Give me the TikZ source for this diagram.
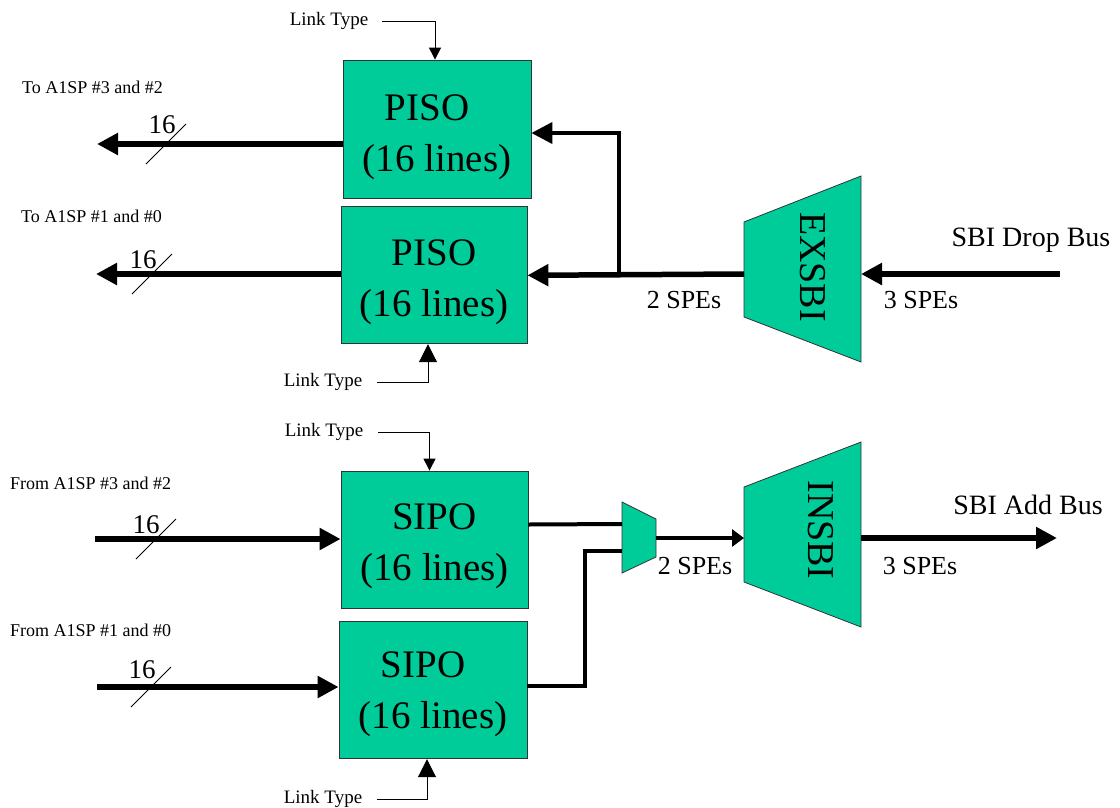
\documentclass[tikz,border=0pt]{standalone}
\usepackage{fontspec}
\setmainfont{Liberation Serif}
\usetikzlibrary{arrows.meta,positioning}
\definecolor{cG}{RGB}{0,204,153}

\begin{document}
\begin{tikzpicture}[x=1pt,y=-1pt,
    unit/.style={rectangle,draw=black!80,line width=0.8pt,fill=cG,minimum width=187pt,minimum height=137pt,inner sep=0pt},
    utext/.style={inner sep=0pt,align=center,font=\fontsize{39}{51}\selectfont},
    mux/.style={draw=black!80,line width=0.8pt,fill=cG},
    vtext/.style={rotate=-90,inner sep=0pt,font=\fontsize{38}{40}\selectfont},
    bus/.style={line width=5.5pt,-{Triangle[length=21pt,width=21pt]}},
    wire/.style={line width=4pt},
    ctrl/.style={line width=1pt,-{Triangle[length=12pt,width=12pt]}},
    ctrlup/.style={line width=1pt,-{Triangle[length=18pt,width=18pt]}},
    tick/.style={line width=0.8pt},
    lbl/.style={inner sep=0pt,font=\fontsize{18}{20}\selectfont},
    ltype/.style={inner sep=0pt,font=\fontsize{19}{21}\selectfont},
    num/.style={inner sep=0pt,font=\fontsize{27}{30}\selectfont},
    spe/.style={inner sep=0pt,font=\fontsize{26}{28}\selectfont},
    buslbl/.style={inner sep=0pt,font=\fontsize{28}{30}\selectfont}
  ]
  \useasboundingbox (0,0) rectangle (1120,807);
  % drop side
  \node[unit,minimum width=188pt,minimum height=138pt] (pisoA) at (437,129) {};
  \node[unit,below=8pt of pisoA,xshift=-3pt,minimum width=186pt] (pisoB) {};
  \node[utext] (pisoAtxt) at ([yshift=-8pt]pisoA.center) {PISO\hspace*{20pt}\\(16 lines)};
  \node[utext] (pisoBtxt) at ([yshift=-7pt]pisoB.center) {PISO\\(16 lines)};
  \draw[mux] (744,222) -- (861,176) -- (861,362) -- (744,317) -- cycle;
  \node[vtext] (exsbi) at (813,267) {EXSBI};
  % add side
  \node[unit] (sipoA) at (434.5,539.5) {};
  \node[unit,below=13pt of sipoA,xshift=-1.5pt,minimum width=188pt] (sipoB) {};
  \node[utext] (sipoAtxt) at ([yshift=-7pt]sipoA.center) {SIPO\\(16 lines)};
  \node[utext] (sipoBtxt) at ([yshift=-4pt]sipoB.center) {SIPO\hspace*{20pt}\\(16 lines)};
  \draw[mux] (622,502) -- (656,519) -- (656,557) -- (622,573) -- cycle;
  \draw[mux] (744,487) -- (861,442) -- (861,627) -- (744,582) -- cycle;
  \node[vtext] (insbi) at (821,530) {INSBI};

  \coordinate (exsbiL) at (744,274);
  \coordinate (exsbiR) at (861,274);
  \coordinate (dropIn) at (1060,274);
  \coordinate (tap) at (619,274);
  \coordinate (muxInA) at (622,524);
  \coordinate (muxInB) at (622,551);
  \coordinate (muxOut) at (656,538);
  \coordinate (insbiL) at (744,538);
  \coordinate (insbiR) at (861,538);
  \coordinate (addOut) at (1057,538);
  \coordinate (toA) at (97,144);
  \coordinate (toB) at (96,274);
  \coordinate (fromA) at (95,539);
  \coordinate (fromB) at (97,687);

  \draw[bus] (dropIn) -- (exsbiR);
  \draw[bus] (exsbiL) -- (pisoB.east);
  \draw[wire,-{Triangle[length=21pt,width=21pt]}] (tap) |- ([yshift=-4pt]pisoA.east);
  \draw[bus] (pisoA.west |- toA) -- (toA);
  \draw[bus] (pisoB.west |- toB) -- (toB);
  \draw[bus] (fromA) -- (sipoA.west |- fromA);
  \draw[bus] (fromB) -- (sipoB.west |- fromB);
  \draw[wire] ([yshift=15pt]sipoA.east) -- (muxInA);
  \draw[wire] ([yshift=4pt]sipoB.east) -| (585,551) -- (muxInB);
  \draw[wire,-{Triangle[length=12pt,width=17pt]}] (muxOut) -- (insbiL);
  \draw[bus] (insbiR) -- (addOut);

  % link type controls
  \node[ltype] (ltA) at (329,21) {Link Type};
  \draw[ctrl] ([xshift=14pt]ltA.east) -| ([xshift=-2pt]pisoA.north);
  \node[ltype] (ltB) at (323,382) {Link Type};
  \draw[ctrlup] ([xshift=15pt]ltB.east) -| ([xshift=-6pt]pisoB.south);
  \node[ltype] (ltC) at (324,432) {Link Type};
  \draw[ctrl] ([xshift=15pt]ltC.east) -| ([xshift=-5pt]sipoA.north);
  \node[ltype] (ltD) at (323,799) {Link Type};
  \draw[ctrlup] ([xshift=15pt]ltD.east) -| ([xshift=-6pt]sipoB.south);

  \node[lbl,anchor=west] (dstA) at (22,87) {To A1SP \#3 and \#2};
  \node[lbl,anchor=west] (dstB) at (21,216) {To A1SP \#1 and \#0};
  \node[lbl,anchor=west] (srcA) at (10,483) {From A1SP \#3 and \#2};
  \node[lbl,anchor=west] (srcB) at (10,630) {From A1SP \#1 and \#0};

  \node[buslbl] (drop) at (1031,240) {SBI Drop Bus};
  \node[buslbl] (add) at (1028,505) {SBI Add Bus};
  \node[spe] (speA) at (684,300) {2 SPEs};
  \node[spe] (speB) at (921,300) {3 SPEs};
  \node[spe] (speC) at (695,566) {2 SPEs};
  \node[spe] (speD) at (920,566) {3 SPEs};

  % bus width marks
  \foreach \cx/\cy/\nx/\ny/\n in {166/144/162/125/a,152/274/143/260/b,156/539/146/525/c,151/687/142/670/d}{
    \draw[tick] (\cx-20,\cy+20) -- (\cx+20,\cy-20);
    \node[num] (w\n) at (\nx,\ny) {16};
  }
\end{tikzpicture}
\end{document}
